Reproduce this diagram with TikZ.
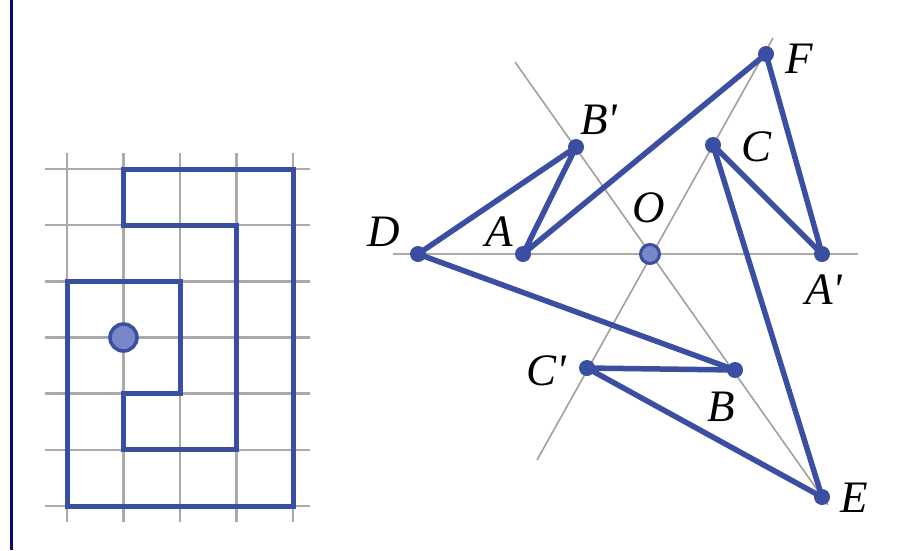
\documentclass[tikz,border=0pt]{standalone}
\usepackage{fontspec}
\newfontfamily\labfont{Liberation Serif}
\definecolor{figblue}{RGB}{58,78,162}
\definecolor{dotfill}{RGB}{120,135,200}
\definecolor{navyedge}{RGB}{12,10,108}
\definecolor{gridgray}{RGB}{170,170,170}
\definecolor{axisgray}{RGB}{160,160,160}
\tikzset{
  gridline/.style={draw=gridgray, line width=2.6pt},
  axisline/.style={draw=axisgray, line width=1.6pt},
  axisthick/.style={draw=gridgray, line width=2.8pt},
  blueline/.style={draw=figblue, line width=5pt, line join=miter},
  segline/.style={draw=figblue, line width=5.5pt, line cap=round, line join=round},
  vdot/.style={circle, fill=figblue, minimum size=16pt, inner sep=0pt},
  odot/.style={circle, fill=dotfill, draw=figblue, line width=3pt, minimum size=19pt, inner sep=0pt},
  bigdot/.style={circle, fill=dotfill, draw=figblue, line width=3.5pt, minimum size=27pt, inner sep=0pt},
  lab/.style={inner sep=0pt, font=\labfont\itshape\fontsize{45}{45}\selectfont}
}
\begin{document}
\begin{tikzpicture}[x=1pt,y=-1pt]
\useasboundingbox (0,0) rectangle (909,550);
\fill[navyedge] (10,0) rectangle (13,550);
% grid coordinates
\foreach \i in {0,...,4}{
  \foreach \j in {0,...,6}{
    \coordinate (g\i\j) at ({67+56.5*\i},{169+56.17*\j});
  }
}
\foreach \i in {0,...,4}{
  \draw[gridline] ({67+56.5*\i},153) -- ({67+56.5*\i},522);
}
\foreach \j in {0,...,6}{
  \draw[gridline] (45,{169+56.17*\j}) -- (310,{169+56.17*\j});
}
\draw[blueline] (g10) -- (g40) -- (g46) -- (g06) -- (g02) -- (g22) -- (g24) -- (g14) -- (g15) -- (g35) -- (g31) -- (g11) -- cycle;
\node[bigdot] (center) at (g13) {};
% right figure: lines through O
\coordinate (h1) at (393,254);
\coordinate (h2) at (858,254);
\coordinate (m1) at (515,62);
\coordinate (m2) at (828,505);
\coordinate (n1) at (773,38);
\coordinate (n2) at (537,460);
\draw[axisthick] (h1) -- (h2);
\draw[axisline] (m1) -- (m2);
\draw[axisline] (n1) -- (n2);
% points
\coordinate (D) at (418,254);
\coordinate (A) at (523,254);
\coordinate (O) at (650,254);
\coordinate (Ap) at (822,254);
\coordinate (Bp) at (576,147);
\coordinate (C) at (713,145);
\coordinate (F) at (766,54);
\coordinate (Cp) at (587,368);
\coordinate (B) at (735,370);
\coordinate (E) at (822,497);
\draw[segline] (D) -- (Bp) -- (A) -- (F) -- (Ap) -- (C) -- (E) -- (Cp) -- (B) -- cycle;
\foreach \p in {D,A,Ap,Bp,C,F,Cp,B,E}{
  \node[vdot] (dot\p) at (\p) {};
}
\node[odot] (dotO) at (O) {};
% labels
\node[lab, anchor=base] (labD) at (384,246) {D};
\node[lab, anchor=base] (labA) at (499,246) {A};
\node[lab, anchor=base west] (labBp) at (580,134) {B'};
\node[lab, anchor=base] (labO) at (649,222) {O};
\node[lab, anchor=base] (labC) at (756,161) {C};
\node[lab, anchor=base] (labF) at (799,73) {F};
\node[lab, anchor=base west] (labAp) at (805,304) {A'};
\node[lab, anchor=base west] (labCp) at (526,385) {C'};
\node[lab, anchor=base] (labB) at (721,421) {B};
\node[lab, anchor=base] (labE) at (854,512) {E};
\end{tikzpicture}
\end{document}
